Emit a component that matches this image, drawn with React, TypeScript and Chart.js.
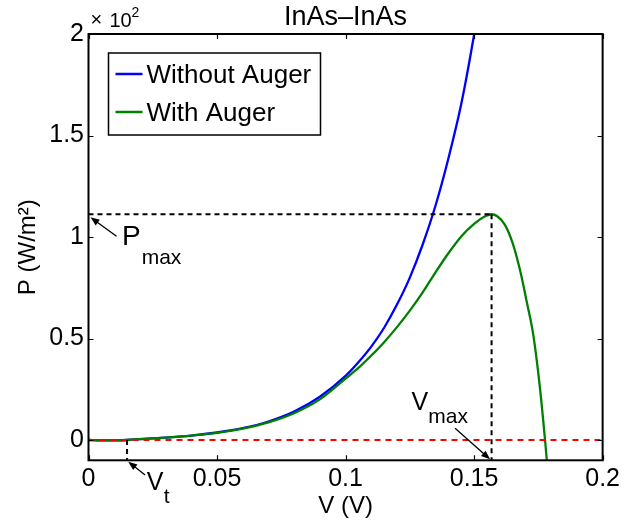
import React, { useEffect, useRef } from 'react';
import { Chart, registerables } from 'chart.js';

Chart.register(...registerables);

// ---- data ----
const voltageWithout = [0, 0.005, 0.01, 0.015, 0.02, 0.03, 0.04, 0.05, 0.06, 0.07, 0.08, 0.09, 0.1, 0.105, 0.11, 0.115, 0.12, 0.125, 0.13, 0.135, 0.14, 0.145, 0.15, 0.155];
const powerWithout = [0, -0.002, -0.002, 0, 0.004, 0.012, 0.022, 0.037, 0.058, 0.091, 0.14, 0.213, 0.316, 0.383, 0.46, 0.553, 0.667, 0.8, 0.963, 1.155, 1.387, 1.655, 1.996, 2.39];

const voltageWith = [0, 0.005, 0.01, 0.015, 0.02, 0.03, 0.04, 0.05, 0.06, 0.07, 0.08, 0.09, 0.1, 0.105, 0.11, 0.115, 0.12, 0.125, 0.13, 0.135, 0.14, 0.145, 0.15, 0.1545, 0.1568, 0.159, 0.162, 0.165, 0.168, 0.1705, 0.173, 0.1755, 0.1776, 0.1785];
const powerWith = [0, -0.002, -0.002, 0, 0.004, 0.012, 0.022, 0.035, 0.056, 0.087, 0.132, 0.2, 0.302, 0.355, 0.416, 0.482, 0.556, 0.637, 0.727, 0.826, 0.92, 1.003, 1.065, 1.103, 1.112, 1.102, 1.06, 0.97, 0.83, 0.68, 0.52, 0.27, 0.0, -0.13];

const seriesLabels = ['Without Auger', 'With Auger'];
const seriesColors = ['#0000ff', '#008000'];

const xTicks = [0, 0.05, 0.1, 0.15, 0.2];
const xTickLabels = ['0', '0.05', '0.1', '0.15', '0.2'];
const yTicks = [0, 0.5, 1, 1.5, 2];
const yTickLabels = ['0', '0.5', '1', '1.5', '2'];

const X_RANGE = [0, 0.2];
const Y_RANGE = [-0.1, 2];

const V_T = 0.015;
const V_MAX = 0.1568;
const P_MAX = 1.112;

const TITLE = 'InAs\u2013InAs';
const X_TITLE = 'V (V)';
const Y_TITLE = 'P (W/m\u00B2)';
const EXPONENT_BASE = '10';
const EXPONENT = '2';

const FONT = '"Liberation Sans", Arial, Helvetica, sans-serif';

function pts(xs: number[], ys: number[]) {
  return xs.map((v, i) => ({ x: v, y: ys[i] }));
}

function arrow(ctx: CanvasRenderingContext2D, x1: number, y1: number, x2: number, y2: number) {
  const ang = Math.atan2(y2 - y1, x2 - x1);
  const hl = 9, hw = 3.5;
  ctx.beginPath();
  ctx.moveTo(x1, y1);
  ctx.lineTo(x2 - Math.cos(ang) * hl * 0.6, y2 - Math.sin(ang) * hl * 0.6);
  ctx.stroke();
  ctx.beginPath();
  ctx.moveTo(x2, y2);
  ctx.lineTo(x2 - Math.cos(ang) * hl - Math.sin(ang) * hw, y2 - Math.sin(ang) * hl + Math.cos(ang) * hw);
  ctx.lineTo(x2 - Math.cos(ang) * hl + Math.sin(ang) * hw, y2 - Math.sin(ang) * hl - Math.cos(ang) * hw);
  ctx.closePath();
  ctx.fill();
}

function subText(ctx: CanvasRenderingContext2D, main: string, sub: string, x: number, base: number, subDx: number, subDy: number, size = 25) {
  ctx.font = `${size}px ${FONT}`;
  ctx.textAlign = 'left';
  ctx.textBaseline = 'alphabetic';
  ctx.fillText(main, x, base);
  const w = ctx.measureText(main).width;
  ctx.font = `21px ${FONT}`;
  ctx.fillText(sub, x + w + subDx, base + subDy);
}

const overlayPlugin = {
  id: 'overlay',
  afterDatasetsDraw(chart: any) {
    const { ctx, chartArea: a, scales } = chart;
    const xs = scales.x, ys = scales.y;
    ctx.save();
    ctx.fillStyle = '#000';
    ctx.strokeStyle = '#000';

    // ticks (inward, all four sides)
    ctx.lineWidth = 1.2;
    ctx.beginPath();
    xTicks.forEach((v) => {
      const px = Math.round(xs.getPixelForValue(v)) + 0.5;
      ctx.moveTo(px, a.bottom); ctx.lineTo(px, a.bottom - 5);
      ctx.moveTo(px, a.top); ctx.lineTo(px, a.top + 5);
    });
    yTicks.forEach((v) => {
      const py = Math.round(ys.getPixelForValue(v)) + 0.5;
      ctx.moveTo(a.left, py); ctx.lineTo(a.left + 5, py);
      ctx.moveTo(a.right, py); ctx.lineTo(a.right - 5, py);
    });
    ctx.stroke();

    // box
    ctx.lineWidth = 2;
    ctx.strokeRect(a.left, a.top, a.right - a.left, a.bottom - a.top);

    // title
    ctx.font = `27px ${FONT}`;
    ctx.textAlign = 'center';
    ctx.textBaseline = 'alphabetic';
    ctx.fillText(TITLE, (a.left + a.right) / 2, a.top - 9);

    // x10^2 multiplier
    ctx.textAlign = 'left';
    ctx.font = `20px ${FONT}`;
    ctx.fillText('\u00D7', a.left + 2, a.top - 8);
    ctx.font = `20px ${FONT}`;
    ctx.fillText(EXPONENT_BASE, a.left + 21, a.top - 7);
    ctx.font = `14px ${FONT}`;
    ctx.fillText(EXPONENT, a.left + 43, a.top - 17);

    // legend
    const lx = a.left + 20, ly = a.top + 19, lw = 212, lh = 82;
    ctx.fillStyle = '#fff';
    ctx.fillRect(lx, ly, lw, lh);
    ctx.lineWidth = 1.5;
    ctx.strokeStyle = '#000';
    ctx.strokeRect(lx, ly, lw, lh);
    const dss = chart.data.datasets;
    [0, 1].forEach((i) => {
      const ry = ly + 21 + i * 38;
      ctx.strokeStyle = dss[i].borderColor;
      ctx.lineWidth = 2.5;
      ctx.beginPath();
      ctx.moveTo(lx + 7, ry);
      ctx.lineTo(lx + 34, ry);
      ctx.stroke();
      ctx.fillStyle = '#000';
      ctx.font = `26px ${FONT}`;
      ctx.textBaseline = 'alphabetic';
      ctx.fillText(dss[i].label, lx + 38, ry + 9.3);
    });

    // annotations
    ctx.strokeStyle = '#000';
    ctx.fillStyle = '#000';
    ctx.lineWidth = 1.3;
    // Pmax
    const pX = xs.getPixelForValue(X_RANGE[0]);
    const pY = ys.getPixelForValue(P_MAX);
    arrow(ctx, pX + 28, pY + 22, pX + 2, pY + 3);
    subText(ctx, 'P', 'max', pX + 33.5, pY + 30.7, 1, 19, 28);
    // Vmax
    const vX = xs.getPixelForValue(V_MAX);
    const vY = ys.getPixelForValue(Y_RANGE[0]);
    arrow(ctx, vX - 36.5, vY - 32, vX - 1.5, vY - 1);
    subText(ctx, 'V', 'max', vX - 80, vY - 50.3, 0, 13.3);
    // Vt
    const tX = xs.getPixelForValue(V_T);
    arrow(ctx, tX + 18, vY + 14.7, tX + 1.2, vY + 1.4);
    subText(ctx, 'V', 't', tX + 19.6, vY + 29.7, 0.5, 12.7);

    ctx.restore();
  },
};

export default function App() {
  const ref = useRef<HTMLCanvasElement | null>(null);
  useEffect(() => {
    if (!ref.current) return;
    const dash = [5, 4];
    const chart = new Chart(ref.current, {
      type: 'line',
      data: {
        datasets: [
          { label: seriesLabels[0], data: pts(voltageWithout, powerWithout), borderColor: seriesColors[0], borderWidth: 2.3, pointRadius: 0, cubicInterpolationMode: 'monotone', order: 3 } as any,
          { label: seriesLabels[1], data: pts(voltageWith, powerWith), borderColor: seriesColors[1], borderWidth: 2.3, pointRadius: 0, cubicInterpolationMode: 'monotone', order: 2 } as any,
          { label: 'zero', data: pts(X_RANGE, [0, 0]), borderColor: '#ff0000', borderWidth: 2, borderDash: [6, 5], pointRadius: 0, order: 1 } as any,
          { label: 'pmax', data: pts([X_RANGE[0], V_MAX], [P_MAX, P_MAX]), borderColor: '#000', borderWidth: 2, borderDash: dash, pointRadius: 0, order: 0 } as any,
          { label: 'vmax', data: pts([V_MAX, V_MAX], [P_MAX, Y_RANGE[0]]), borderColor: '#000', borderWidth: 2, borderDash: dash, pointRadius: 0, order: 0 } as any,
          { label: 'vt', data: pts([V_T, V_T], [0, Y_RANGE[0]]), borderColor: '#000', borderWidth: 2, borderDash: dash, pointRadius: 0, order: 0 } as any,
        ],
      },
      options: {
        animation: false,
        responsive: true,
        maintainAspectRatio: false,
        devicePixelRatio: 1,
        layout: { padding: { left: 0, right: 21.3, top: 34, bottom: 0 } },
        plugins: { legend: { display: false }, tooltip: { enabled: false }, title: { display: false } },
        scales: {
          x: {
            type: 'linear',
            min: X_RANGE[0],
            max: X_RANGE[1],
            grid: { display: false, drawTicks: false },
            border: { display: false },
            afterBuildTicks: (s: any) => { s.ticks = xTicks.map((v) => ({ value: v })); },
            afterFit: (s: any) => { s.height = 59.7; },
            ticks: {
              padding: 4,
              color: '#000',
              font: { family: FONT, size: 25 },
              maxRotation: 0,
              autoSkip: false,
              callback: (_v: any, i: number) => xTickLabels[i],
            },
            title: { display: true, text: X_TITLE, color: '#000', font: { family: FONT, size: 24 }, padding: { top: 0, bottom: -1 } },
          },
          y: {
            type: 'linear',
            min: Y_RANGE[0],
            max: Y_RANGE[1],
            grid: { display: false, drawTicks: false },
            border: { display: false },
            afterBuildTicks: (s: any) => { s.ticks = yTicks.map((v) => ({ value: v })); },
            afterFit: (s: any) => { s.width = 88.5; },
            ticks: {
              padding: 4.5,
              color: '#000',
              font: { family: FONT, size: 25 },
              autoSkip: false,
              callback: (_v: any, i: number) => yTickLabels[i],
            },
            title: { display: true, text: Y_TITLE, color: '#000', font: { family: FONT, size: 24 }, padding: { top: 14, bottom: 0 } },
          },
        },
      },
      plugins: [overlayPlugin],
    });
    return () => chart.destroy();
  }, []);
  return (
    <div style={{ position: 'absolute', left: 0, top: 0, width: 624, height: 520, background: '#fff' }}>
      <canvas ref={ref} />
    </div>
  );
}
